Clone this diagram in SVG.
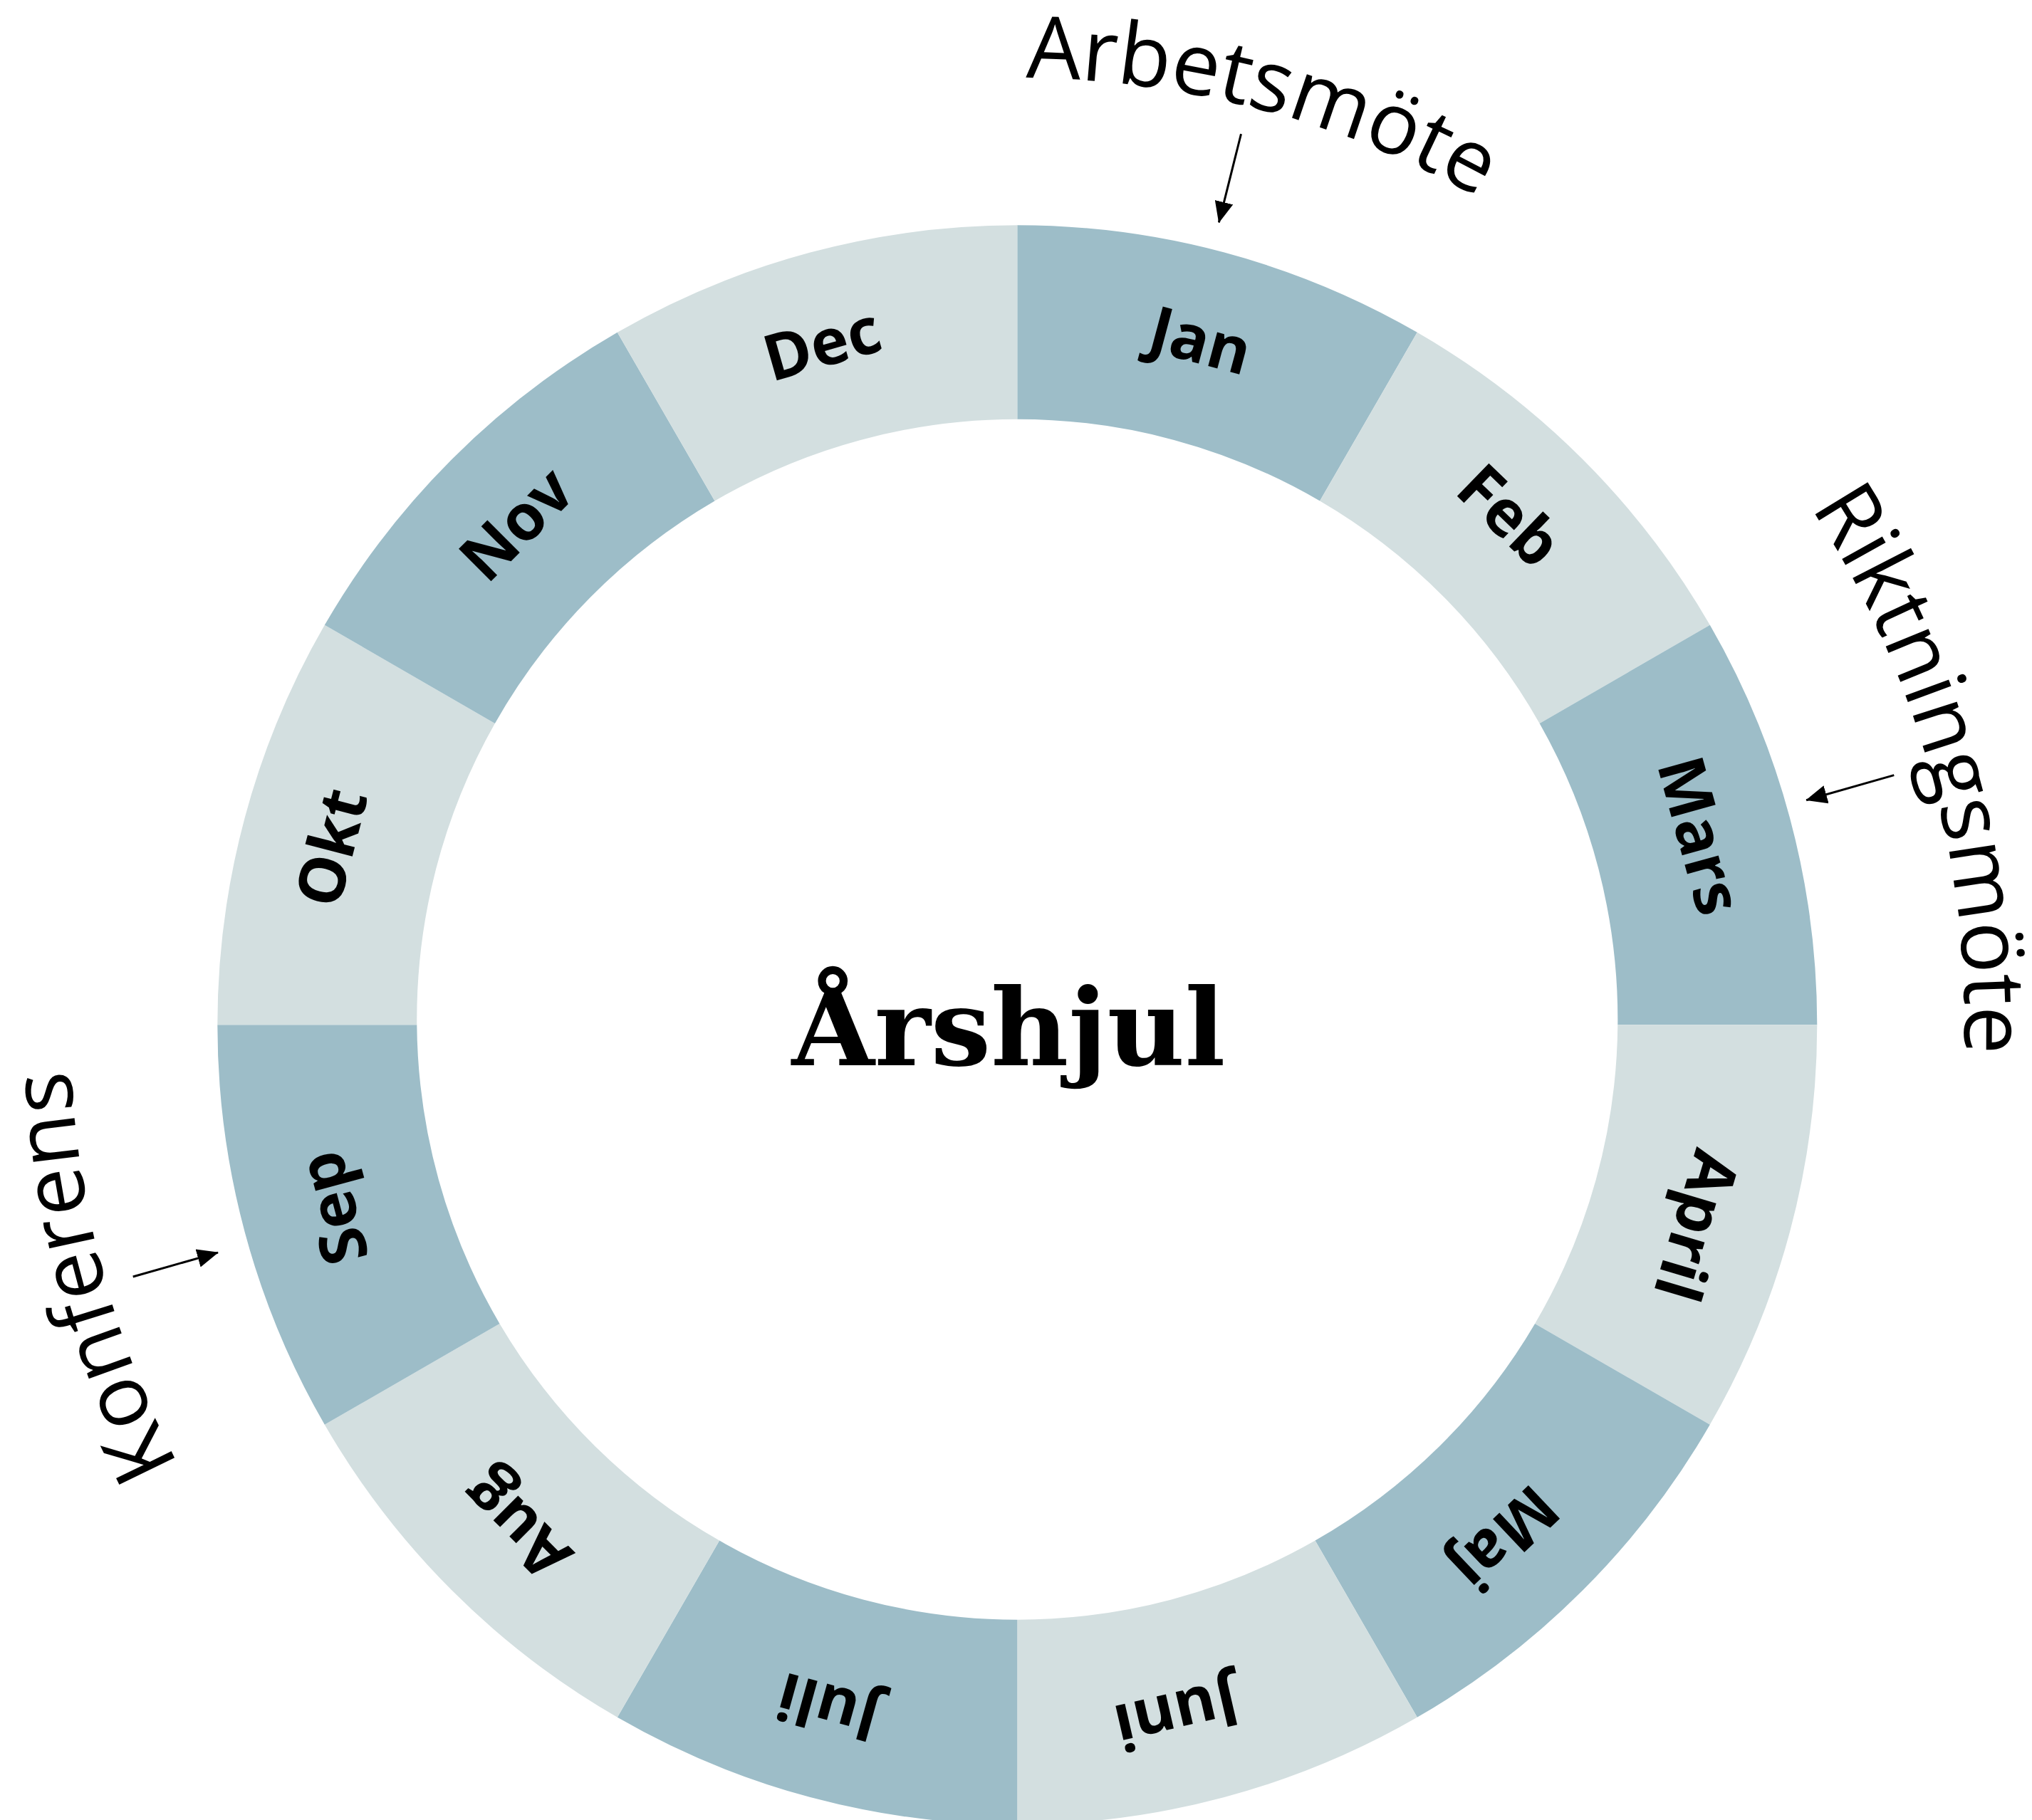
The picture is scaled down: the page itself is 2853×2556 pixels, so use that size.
<svg xmlns="http://www.w3.org/2000/svg" width="2853" height="2556" viewBox="0 0 2853 2556">
  <style>
    .dark { fill: #9DBDC8; }
    .light { fill: #D3DFE0; }
    .month { font-family: "Open Sans", "Noto Sans", sans-serif; font-weight: 700; font-size: 90px; fill: #000; text-anchor: middle; }
    .event { font-family: "Open Sans", "Noto Sans", sans-serif; font-weight: 400; font-size: 121px; fill: #000; }
    .title { font-family: "DejaVu Serif", "Liberation Serif", serif; font-weight: 700; font-size: 150px; fill: #000; text-anchor: middle; }
    .conn { stroke: #000; stroke-width: 3; fill: none; marker-end: url(#arrow); }
  </style>
  <defs>
    <marker id="arrow" markerUnits="userSpaceOnUse" markerWidth="30" markerHeight="26" refX="29" refY="13" orient="auto">
      <path d="M0,0 L30,13 L0,26 Z" fill="#000"/>
    </marker>
    <path id="outerArc" d="M 1428.3 109.3 A 1330 1330 0 1 1 1428.3 2769.3 A 1330 1330 0 1 1 1428.3 109.3"/>
  </defs>
  <rect width="2853" height="2556" fill="#fff"/>

  <g id="month-jan">
    <path class="dark" d="M1428.3 316.3 A1123 1123 0 0 1 1989.8 466.8 L1853.1 703.5 A843 843 0 0 0 1428.3 588.7 Z"/>
    <text class="month" transform="rotate(15 1428.3 1439.3)" x="1428.3" y="476.3">Jan</text>
  </g>
  <g id="month-feb">
    <path class="light" d="M1989.8 466.8 A1123 1123 0 0 1 2400.8 877.8 L2161.6 1015.9 A843 843 0 0 0 1853.1 703.5 Z"/>
    <text class="month" transform="rotate(44 1428.3 1439.3)" x="1428.3" y="476.3">Feb</text>
  </g>
  <g id="month-mars">
    <path class="dark" d="M2400.8 877.8 A1123 1123 0 0 1 2551.3 1439.3 L2271.3 1439.3 A843 843 0 0 0 2161.6 1015.9 Z"/>
    <text class="month" transform="rotate(74.5 1428.3 1439.3)" x="1428.3" y="476.3">Mars</text>
  </g>
  <g id="month-april">
    <path class="light" d="M2551.3 1439.3 A1123 1123 0 0 1 2400.8 2000.8 L2155.1 1858.9 A843 843 0 0 0 2271.3 1439.3 Z"/>
    <text class="month" transform="rotate(106.5 1428.3 1439.3)" x="1428.3" y="476.3">April</text>
  </g>
  <g id="month-maj">
    <path class="dark" d="M2400.8 2000.8 A1123 1123 0 0 1 1989.8 2411.8 L1846.5 2163.6 A843 843 0 0 0 2155.1 1858.9 Z"/>
    <text class="month" transform="rotate(136.5 1428.3 1439.3)" x="1428.3" y="476.3">Maj</text>
  </g>
  <g id="month-juni">
    <path class="light" d="M1989.8 2411.8 A1123 1123 0 0 1 1428.3 2562.3 L1428.3 2274.7 A843 843 0 0 0 1846.5 2163.6 Z"/>
    <text class="month" transform="rotate(167 1428.3 1439.3)" x="1428.3" y="476.3">Juni</text>
  </g>
  <g id="month-juli">
    <path class="dark" d="M1428.3 2562.3 A1123 1123 0 0 1 866.8 2411.8 L1010.1 2163.6 A843 843 0 0 0 1428.3 2274.7 Z"/>
    <text class="month" transform="rotate(195.5 1428.3 1439.3)" x="1428.3" y="476.3">Juli</text>
  </g>
  <g id="month-aug">
    <path class="light" d="M866.8 2411.8 A1123 1123 0 0 1 455.8 2000.8 L701.5 1858.9 A843 843 0 0 0 1010.1 2163.6 Z"/>
    <text class="month" transform="rotate(225 1428.3 1439.3)" x="1428.3" y="476.3">Aug</text>
  </g>
  <g id="month-sep">
    <path class="dark" d="M455.8 2000.8 A1123 1123 0 0 1 305.3 1439.3 L585.3 1439.3 A843 843 0 0 0 701.5 1858.9 Z"/>
    <text class="month" transform="rotate(255 1428.3 1439.3)" x="1428.3" y="476.3">Sep</text>
  </g>
  <g id="month-okt">
    <path class="light" d="M305.3 1439.3 A1123 1123 0 0 1 455.8 877.8 L694.9 1015.9 A843 843 0 0 0 585.3 1439.3 Z"/>
    <text class="month" transform="rotate(284.5 1428.3 1439.3)" x="1428.3" y="476.3">Okt</text>
  </g>
  <g id="month-nov">
    <path class="dark" d="M455.8 877.8 A1123 1123 0 0 1 866.8 466.8 L1003.5 703.5 A843 843 0 0 0 694.9 1015.9 Z"/>
    <text class="month" transform="rotate(315 1428.3 1439.3)" x="1428.3" y="476.3">Nov</text>
  </g>
  <g id="month-dec">
    <path class="light" d="M866.8 466.8 A1123 1123 0 0 1 1428.3 316.3 L1428.3 588.7 A843 843 0 0 0 1003.5 703.5 Z"/>
    <text class="month" transform="rotate(344 1428.3 1439.3)" x="1428.3" y="476.3">Dec</text>
  </g>

  <g id="title">
    <text class="title" x="1416" y="1496">Årshjul</text>
  </g>

  <g id="label-arbetsmote">
    <text class="event"><textPath href="#outerArc" startOffset="12">Arbetsmöte</textPath></text>
  </g>
  <g id="label-riktningsmote">
    <text class="event"><textPath href="#outerArc" startOffset="1320">Riktningsmöte</textPath></text>
  </g>
  <g id="label-konferens">
    <text class="event"><textPath href="#outerArc" startOffset="5624">Konferens</textPath></text>
  </g>

  <g id="connectors">
    <line class="conn" x1="1742.5" y1="188.1" x2="1711.4" y2="312.3"/>
    <line class="conn" x1="2659.3" y1="1088.6" x2="2536.2" y2="1123.7"/>
    <line class="conn" x1="186.7" y1="1793" x2="306" y2="1759.1"/>
  </g>
</svg>
